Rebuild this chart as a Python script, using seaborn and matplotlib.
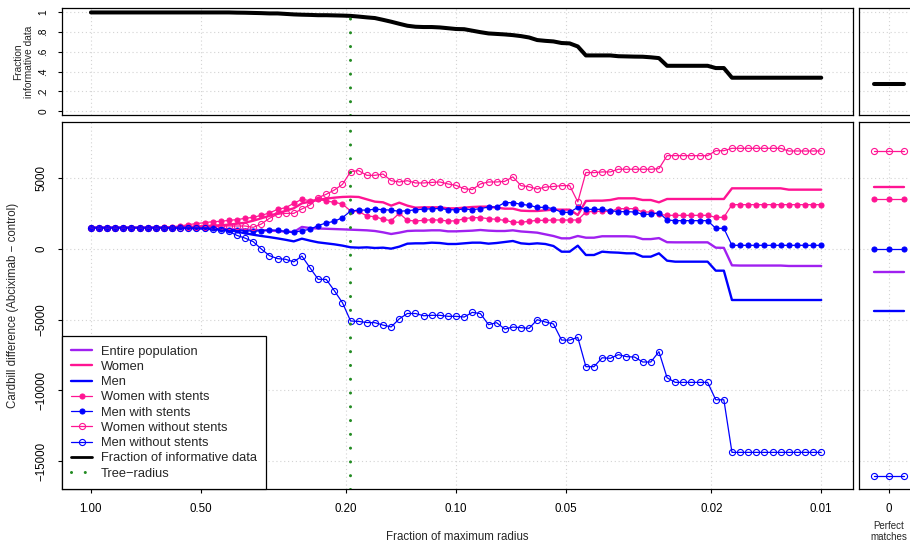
import numpy as np
import pandas as pd
import matplotlib.pyplot as plt
import seaborn as sns
from matplotlib.lines import Line2D
from matplotlib.ticker import NullLocator

# radius grid (fraction of maximum radius), 91 log-spaced steps from 1 to 0.01
radius = np.geomspace(1.0, 0.01, 91)
tree_radius = 0.195

entire_pop = [1500, 1500, 1500, 1500, 1500, 1500, 1500, 1500, 1500, 1500,
              1500, 1490, 1480, 1470, 1455, 1440, 1420, 1400, 1385, 1370,
              1350, 1330, 1300, 1270, 1230, 1200, 1560, 1480, 1450, 1430,
              1410, 1390, 1367, 1344, 1320, 1273, 1179, 1061, 1155, 1273,
              1297, 1297, 1320, 1320, 1249, 1249, 1273, 1297, 1344, 1297,
              1273, 1273, 1320, 1240, 1200, 1155, 1037, 919, 754, 754,
              919, 800, 800, 900, 900, 900, 900, 870, 700, 700,
              770, 480, 471, 471, 471, 471, 471, 94, 80, -1155,
              -1170, -1170, -1170, -1170, -1170, -1170, -1200, -1200, -1200, -1200,
              -1200]

women = [1500, 1500, 1500, 1500, 1500, 1500, 1500, 1500, 1500, 1500,
         1500, 1530, 1560, 1590, 1620, 1650, 1680, 1720, 1790, 1860,
         2000, 2170, 2350, 2520, 2700, 2880, 3230, 3350, 3470, 3560,
         3630, 3680, 3700, 3678, 3513, 3348, 3301, 3065, 3277, 3065,
         2923, 2947, 2947, 2947, 2876, 2876, 2923, 2970, 2994, 2994,
         2923, 2852, 2852, 2711, 2687, 2687, 2734, 2782, 2782, 2782,
         2404, 3395, 3418, 3418, 3465, 3583, 3583, 3583, 3465, 3465,
         3300, 3536, 3536, 3536, 3536, 3536, 3536, 3536, 3536, 4290,
         4290, 4290, 4290, 4290, 4290, 4290, 4196, 4196, 4196, 4196,
         4196]

men = [1500, 1500, 1500, 1500, 1500, 1500, 1500, 1500, 1500, 1500,
       1500, 1500, 1490, 1470, 1440, 1400, 1370, 1340, 1230, 1110,
       1010, 920, 840, 750, 650, 540, 730, 590, 470, 400,
       330, 240, 120, 94, 118, 71, 94, 24, 165, 377,
       401, 401, 448, 424, 354, 354, 401, 448, 448, 377,
       424, 495, 566, 401, 354, 401, 354, 212, -189, -189,
       236, -424, -424, -189, -236, -259, -306, -306, -542, -542,
       -306, -825, -896, -896, -896, -896, -896, -1532, -1532, -3607,
       -3607, -3607, -3607, -3607, -3607, -3607, -3607, -3607, -3607, -3607,
       -3607]

women_stents = [1510, 1510, 1510, 1510, 1510, 1510, 1510, 1510, 1510, 1540,
                1580, 1627, 1720, 1800, 1860, 1933, 1957, 2027, 2075, 2169,
                2240, 2381, 2546, 2805, 2923, 3230, 3513, 3418, 3513, 3395,
                3300, 3182, 2687, 2660, 2334, 2287, 2098, 2004, 2522, 2027,
                1980, 2027, 2070, 2040, 1980, 1990, 2145, 2216, 2216, 2145,
                2098, 2027, 1900, 1886, 1957, 2027, 2027, 2051, 2051, 2051,
                2051, 2617, 2664, 2664, 2664, 2852, 2852, 2852, 2617, 2617,
                2452, 2381, 2381, 2381, 2381, 2381, 2381, 2240, 2240, 3135,
                3135, 3135, 3135, 3135, 3135, 3135, 3135, 3135, 3135, 3135,
                3135]

men_stents = [1500, 1500, 1500, 1500, 1500, 1500, 1500, 1500, 1500, 1500,
              1520, 1540, 1530, 1520, 1510, 1470, 1400, 1360, 1350, 1300,
              1250, 1297, 1350, 1320, 1240, 1170, 1297, 1390, 1660, 1840,
              1960, 2216, 2680, 2758, 2746, 2817, 2780, 2746, 2664, 2711,
              2770, 2817, 2840, 2864, 2781, 2770, 2829, 2781, 2852, 2970,
              2970, 3277, 3277, 3159, 3088, 2946, 2946, 2852, 2593, 2593,
              2946, 2805, 2805, 2805, 2711, 2640, 2640, 2617, 2452, 2452,
              2570, 2051, 2004, 2004, 2004, 2004, 2004, 1461, 1461, 259,
              259, 259, 259, 259, 259, 259, 259, 259, 259, 259,
              259]

women_no_stents = [1500, 1500, 1500, 1500, 1500, 1500, 1500, 1500, 1500, 1500,
                   1510, 1520, 1540, 1550, 1580, 1600, 1620, 1627, 1627, 1627,
                   1530, 1768, 2170, 2450, 2520, 2520, 2830, 3110, 3630, 3870,
                   4170, 4570, 5470, 5540, 5210, 5210, 5300, 4830, 4740, 4830,
                   4670, 4670, 4710, 4740, 4600, 4500, 4260, 4200, 4600, 4740,
                   4740, 4780, 5100, 4480, 4400, 4240, 4380, 4420, 4480, 4480,
                   3330, 5410, 5400, 5450, 5450, 5640, 5640, 5640, 5640, 5640,
                   5680, 6600, 6600, 6600, 6600, 6600, 6600, 6950, 6950, 7120,
                   7120, 7120, 7120, 7120, 7120, 7120, 6930, 6930, 6930, 6930,
                   6930]

men_no_stents = [1500, 1500, 1500, 1500, 1500, 1500, 1500, 1500, 1500, 1500,
                 1500, 1500, 1500, 1490, 1470, 1400, 1350, 1240, 960, 770,
                 520, 0, -470, -680, -730, -910, -500, -1330, -2140, -2150,
                 -2950, -3800, -5090, -5120, -5200, -5210, -5380, -5510, -4940, -4560,
                 -4560, -4720, -4690, -4690, -4760, -4760, -4810, -4480, -4570, -5350,
                 -5210, -5660, -5520, -5560, -5610, -5000, -5160, -5300, -6440, -6440,
                 -6250, -8320, -8320, -7690, -7730, -7470, -7610, -7640, -7990, -7990,
                 -7260, -9100, -9430, -9430, -9430, -9430, -9430, -10660, -10660, -14380,
                 -14380, -14380, -14380, -14380, -14380, -14380, -14380, -14380, -14380, -14380,
                 -14380]

frac_informative = [1.0, 1.0, 1.0, 1.0, 1.0, 1.0, 1.0, 1.0, 1.0, 1.0,
                    1.0, 1.0, 1.0, 1.0, 1.0, 1.0, 1.0, 1.0, 0.998, 0.997,
                    0.995, 0.993, 0.99, 0.99, 0.985, 0.98, 0.977, 0.975, 0.972, 0.972,
                    0.97, 0.968, 0.965, 0.958, 0.95, 0.943, 0.925, 0.906, 0.885, 0.865,
                    0.855, 0.852, 0.852, 0.848, 0.84, 0.832, 0.83, 0.815, 0.8, 0.787,
                    0.782, 0.777, 0.77, 0.76, 0.746, 0.72, 0.712, 0.706, 0.69, 0.686,
                    0.655, 0.564, 0.564, 0.564, 0.564, 0.556, 0.554, 0.552, 0.551, 0.545,
                    0.537, 0.459, 0.459, 0.459, 0.459, 0.459, 0.459, 0.436, 0.436, 0.338,
                    0.338, 0.338, 0.338, 0.338, 0.338, 0.338, 0.338, 0.338, 0.338, 0.338,
                    0.338]

# perfect matches (radius 0)
perfect_x = [-0.5, 0, 0.5]
pm_entire_pop = -1620
pm_women = 4385
pm_men = -4385
pm_women_stents = 3536
pm_men_stents = 0
pm_women_no_stents = 6930
pm_men_no_stents = -16030
pm_frac = 0.274

x_ticks = [1, 0.5, 0.2, 0.1, 0.05, 0.02, 0.01]
x_ticklabels = ['1.00', '0.50', '0.20', '0.10', '0.05', '0.02', '0.01']
y_ticks = [-15000, -10000, -5000, 0, 5000]
y_ticklabels = ['\u221215000', '\u221210000', '\u22125000', '0', '5000']
frac_ticks = [0, 0.2, 0.4, 0.6, 0.8, 1]
frac_ticklabels = ['0', '.2', '.4', '.6', '.8', '1']

PURPLE = '#A020F0'
PINK = '#FF1493'
BLUE = '#0000FF'
GREEN = '#228B22'

sns.set_theme(style='ticks')
plt.rcParams['font.family'] = ['Liberation Sans', 'DejaVu Sans']
plt.rcParams['axes.edgecolor'] = 'black'
plt.rcParams['xtick.color'] = 'black'
plt.rcParams['ytick.color'] = 'black'

fig = plt.figure(figsize=(9.1, 5.44), dpi=100)
W, H = 910, 544
ax_top = fig.add_axes([62 / W, 1 - 115 / H, 790.7 / W, 107 / H])
ax_main = fig.add_axes([62 / W, 1 - 489 / H, 790.7 / W, 367 / H])
ax_top_r = fig.add_axes([859 / W, 1 - 115 / H, 60 / W, 107 / H])
ax_main_r = fig.add_axes([859 / W, 1 - 489 / H, 60 / W, 367 / H])

ax_top.set_xscale('log')
ax_main.set_xscale('log')

# series: label, values, perfect-match value, colour, linewidth, marker, filled
series = [
    ('Entire population', entire_pop, pm_entire_pop, PURPLE, 1.7, None, True),
    ('Women', women, pm_women, PINK, 1.7, None, True),
    ('Men', men, pm_men, BLUE, 1.7, None, True),
    ('Women with stents', women_stents, pm_women_stents, PINK, 0.9, 'o', True),
    ('Men with stents', men_stents, pm_men_stents, BLUE, 0.9, 'o', True),
    ('Women without stents', women_no_stents, pm_women_no_stents, PINK, 0.9, 'o', False),
    ('Men without stents', men_no_stents, pm_men_no_stents, BLUE, 0.9, 'o', False),
]

handles = []
for label, vals, pm, col, lw, mk, filled in series:
    kw = dict(color=col, lw=lw)
    if mk is not None:
        kw.update(marker=mk, markersize=3.6 if filled else 4.4,
                  markerfacecolor=col if filled else 'none',
                  markeredgecolor=col, markeredgewidth=0.8)
    sns.lineplot(x=radius, y=vals, ax=ax_main, legend=False, **kw)
    sns.lineplot(x=perfect_x, y=[pm] * 3, ax=ax_main_r, legend=False, **kw)
    handles.append(Line2D([], [], label=label, **kw))

sns.lineplot(x=radius, y=frac_informative, ax=ax_top, color='black', lw=2.9, legend=False)
sns.lineplot(x=perfect_x, y=[pm_frac] * 3, ax=ax_top_r, color='black', lw=2.9, legend=False)
handles.append(Line2D([], [], color='black', lw=2.0, label='Fraction of informative data'))

# dotted green line for the tree radius (round dots)
tree_kw = dict(color=GREEN, lw=2.2, ls=(0, (0.01, 4.5)), dash_capstyle='round')
for ax in (ax_top, ax_main):
    ax.axvline(tree_radius, zorder=4, **tree_kw)
handles.append(Line2D([], [], label='Tree\u2212radius', **tree_kw))

grid_kw = dict(color='#d3d3d3', linestyle=(0, (1, 2.5)), linewidth=0.8)

for ax in (ax_top, ax_main):
    ax.set_xlim(1.2, 0.0082)
    ax.set_xticks(x_ticks)
    ax.xaxis.set_minor_locator(NullLocator())
    ax.grid(True, which='major', **grid_kw)
    ax.set_xlabel('')
    ax.set_ylabel('')

for ax in (ax_top_r, ax_main_r):
    ax.set_xlim(-1, 1)
    ax.set_xticks([0])
    ax.grid(True, which='major', **grid_kw)
    ax.set_xlabel('')
    ax.set_ylabel('')

ax_top.set_ylim(-0.04, 1.045)
ax_top_r.set_ylim(-0.04, 1.045)
ax_main.set_ylim(-16970, 8980)
ax_main_r.set_ylim(-16970, 8980)

ax_top.set_yticks(frac_ticks)
ax_top.set_yticklabels(frac_ticklabels, fontsize=7.3, rotation=90, va='center')
ax_top.tick_params(axis='x', length=0, labelbottom=False)
ax_top.tick_params(axis='y', length=3.2, width=0.8, pad=6.5)

ax_main.set_xticklabels(x_ticklabels, fontsize=8.3)
ax_main.set_yticks(y_ticks)
ax_main.set_yticklabels(y_ticklabels, fontsize=8.3, rotation=90, va='center')
ax_main.tick_params(axis='x', length=3.2, width=0.8, pad=7)
ax_main.tick_params(axis='y', length=3.2, width=0.8, pad=7)

ax_top_r.set_yticks(frac_ticks)
ax_top_r.tick_params(axis='both', length=0, labelbottom=False, labelleft=False)
ax_main_r.set_yticks(y_ticks)
ax_main_r.set_xticklabels(['0'], fontsize=8.3)
ax_main_r.tick_params(axis='x', length=3.2, width=0.8, pad=7)
ax_main_r.tick_params(axis='y', length=0, labelleft=False)

for ax in (ax_top, ax_main, ax_top_r, ax_main_r):
    for s in ax.spines.values():
        s.set_visible(True)
        s.set_linewidth(0.9)
        s.set_color('black')

leg = ax_main.legend(handles=handles, loc='lower left', bbox_to_anchor=(0, 0),
                     borderaxespad=0, fontsize=9.3, frameon=True, fancybox=False,
                     edgecolor='black', framealpha=1, handlelength=1.6,
                     handletextpad=0.7, labelspacing=0.25, borderpad=0.72,
                     numpoints=1)
leg.get_frame().set_linewidth(0.9)

fig.text(13.5 / W, 1 - 305.5 / H, 'Cardbill difference (Abciximab \u2212 control)',
         rotation=90, ha='center', va='center', fontsize=8.3)
fig.text(23.5 / W, 1 - 61.5 / H, 'Fraction\ninformative data', rotation=90,
         ha='center', va='center', fontsize=7.3, linespacing=1.05)
fig.text(457 / W, 1 - 537.5 / H, 'Fraction of maximum radius',
         ha='center', va='center', fontsize=8.3)
fig.text(889 / W, 1 - 531.5 / H, 'Perfect\nmatches', ha='center', va='center',
         fontsize=7, linespacing=1.1)

fig.savefig('out.png', dpi=100)
